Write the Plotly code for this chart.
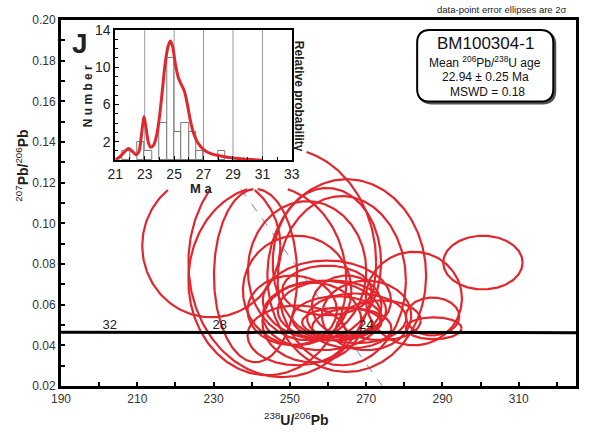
import numpy as np
import plotly.graph_objects as go

# ---------------- data ----------------
# error ellipses (centre x, centre y, semi-axis x, semi-axis y) in 238U/206Pb , 207Pb/206Pb
ell_x = [229.4, 248.0, 244.1, 241.0, 264.9, 254.5, 259.7, 263.6, 251.9, 259.7,
         261.0, 262.3, 263.6, 258.4, 264.9, 267.5, 255.8, 266.2, 270.1, 251.9,
         282.5, 300.6, 287.4, 287.7, 273.9, 259.7, 250.6]
ell_y = [0.0890, 0.0807, 0.0718, 0.0743, 0.0743, 0.0767, 0.0807, 0.0718, 0.0670, 0.0621,
         0.0572, 0.0533, 0.0513, 0.0547, 0.0596, 0.0533, 0.0513, 0.0484, 0.0547, 0.0449,
         0.0630, 0.0807, 0.0542, 0.0484, 0.0523, 0.0670, 0.0572]
ell_sx = [18.1, 24.6, 20.7, 10.9, 20.8, 15.5, 14.2, 16.8, 14.2, 16.8,
          14.2, 11.7, 10.4, 15.5, 9.1, 13.0, 13.0, 10.4, 11.7, 13.0,
          12.6, 10.4, 7.0, 7.3, 10.4, 11.7, 11.7]
ell_sy = [0.0352, 0.0563, 0.0465, 0.0426, 0.0474, 0.0342, 0.0367, 0.0416, 0.0269, 0.0196,
          0.0147, 0.0108, 0.0073, 0.0171, 0.0147, 0.0122, 0.0196, 0.0098, 0.0171, 0.0147,
          0.0230, 0.0132, 0.0093, 0.0054, 0.0098, 0.0122, 0.0171]

# concordia (Tera-Wasserburg) with age labels
conc_x = [190.0, 200.9, 229.7, 268.1, 325.0]
conc_y = [0.04645, 0.04643, 0.04638, 0.04632, 0.04625]
age_labels = ["32", "28", "24"]
age_x = [200.9, 229.7, 268.1]
age_y = [0.04643, 0.04638, 0.04632]

# regression (dashed) line
reg_x = [237.2, 274.2]
reg_y = [0.1168, 0.0200]

# inset histogram (Ma, counts)
hist_centers = [21.75, 22.75, 23.25, 24.25, 24.75, 25.25, 25.75, 26.25, 26.75, 28.25]
hist_counts = [1, 2, 1, 4, 11, 3, 4, 3, 1, 1]
# relative probability curve
pdf_age = [21.0, 21.3, 21.6, 21.9, 22.2, 22.4, 22.6, 22.8, 22.95, 23.1, 23.25, 23.4, 23.6,
           23.8, 24.0, 24.2, 24.4, 24.6, 24.75, 24.9, 25.1, 25.3, 25.5, 25.7, 25.9, 26.1,
           26.3, 26.6, 27.0, 27.5, 28.0, 28.5, 29.0, 30.0, 31.0]
pdf_val = [0.05, 0.35, 0.85, 1.25, 0.9, 0.6, 0.9, 3.0, 4.7, 3.4, 1.9, 1.4, 1.6,
           2.6, 4.6, 7.5, 10.5, 12.3, 12.8, 12.2, 10.2, 8.8, 8.1, 7.4, 6.0, 4.3,
           3.0, 1.9, 1.15, 0.7, 0.5, 0.35, 0.25, 0.1, 0.0]

# ---------------- layout helpers ----------------
W, H = 596, 432
ML, MR, MT, MB = 61, 13, 18, 46
PW, PH = W - ML - MR, H - MT - MB
XR = [190, 325]
YR = [0.02, 0.20]
RED = "#e3262d"
FONT = "Liberation Sans, Arial, sans-serif"


def px2paper(px, py):
    return (px - ML) / PW, (H - MB - py) / PH


# inset region (covered area in the main plot, data units)
cover_x = XR[0] + (308 - ML) / PW * (XR[1] - XR[0])
cover_y = YR[1] - (188 - MT) / PH * (YR[1] - YR[0])

ex, ey = [], []
t = np.linspace(0, 2 * np.pi, 241)
for cx, cy, sx, sy in zip(ell_x, ell_y, ell_sx, ell_sy):
    xs = cx + sx * np.cos(t)
    ys = cy + sy * np.sin(t)
    for a, b in zip(xs, ys):
        if a < cover_x and b > cover_y:
            ex.append(None); ey.append(None)
        else:
            ex.append(a); ey.append(b)
    ex.append(None); ey.append(None)

fig = go.Figure()

fig.add_trace(go.Scatter(x=reg_x, y=reg_y, mode="lines",
                         line=dict(color="#6f7fd0", width=1, dash="dash"),
                         showlegend=False, xaxis="x", yaxis="y"))
fig.add_trace(go.Scatter(x=ex, y=ey, mode="lines",
                         line=dict(color=RED, width=2.2), connectgaps=False,
                         showlegend=False, xaxis="x", yaxis="y"))
fig.add_trace(go.Scatter(x=conc_x, y=conc_y, mode="lines",
                         line=dict(color="black", width=3), hoverinfo="skip",
                         showlegend=False, xaxis="x", yaxis="y"))
fig.add_trace(go.Scatter(x=age_x, y=age_y, mode="text", text=age_labels,
                         textposition="top right",
                         textfont=dict(family=FONT, size=13, color="#222"),
                         showlegend=False, xaxis="x", yaxis="y"))

# inset
fig.add_trace(go.Bar(x=hist_centers, y=hist_counts, width=0.5,
                     marker=dict(color="white", line=dict(color="#777", width=1)),
                     showlegend=False, xaxis="x2", yaxis="y2"))
fig.add_trace(go.Scatter(x=pdf_age, y=pdf_val, mode="lines",
                         line=dict(color=RED, width=3, shape="spline", smoothing=0.8),
                         showlegend=False, xaxis="x2", yaxis="y2"))

ix0, iy1 = px2paper(116, 28)
ix1, iy0 = px2paper(295, 159)

axis_common = dict(showline=True, mirror=True, linecolor="black", showgrid=False,
                   zeroline=False, ticks="inside", tickcolor="black")

fig.update_layout(
    width=W, height=H,
    margin=dict(l=ML, r=MR, t=MT, b=MB),
    paper_bgcolor="white", plot_bgcolor="white",
    font=dict(family=FONT, color="#333"),
    showlegend=False,
    xaxis=dict(range=XR, domain=[0, 1], anchor="y", linewidth=3,
               tick0=190, dtick=20, ticklen=4, tickwidth=2,
               minor=dict(dtick=10, ticks="inside", ticklen=4, tickwidth=2, tickcolor="black"),
               tickfont=dict(size=12, color="#333"), **axis_common),
    yaxis=dict(range=YR, domain=[0, 1], anchor="x", linewidth=3,
               tick0=0.02, dtick=0.02, tickformat=".2f", ticklen=4, tickwidth=2,
               minor=dict(dtick=0.01, ticks="inside", ticklen=4, tickwidth=2, tickcolor="black"),
               tickfont=dict(size=12, color="#333"), **axis_common),
    xaxis2=dict(range=[21, 33], domain=[ix0, ix1], anchor="y2", linewidth=2,
                tickvals=[21, 23, 25, 27, 29, 31, 33], ticklen=4,
                minor=dict(dtick=1, ticks="inside", ticklen=3, tickcolor="black"),
                tickfont=dict(size=14, color="#222"),
                showline=True, mirror=True, linecolor="black", zeroline=False,
                ticks="inside", tickcolor="black",
                showgrid=False),
    yaxis2=dict(range=[0, 14], domain=[iy0, iy1], anchor="x2", linewidth=2,
                tickvals=[2, 6, 10, 14], ticklen=4,
                minor=dict(dtick=1, ticks="inside", ticklen=3, tickcolor="black"),
                tickfont=dict(size=14, color="#222"), **axis_common),
    bargap=0,
)

shapes = []
# inset vertical grid lines
for g in [23, 25, 27, 29, 31]:
    shapes.append(dict(type="line", xref="x2", yref="y2", x0=g, x1=g, y0=0, y1=14,
                       line=dict(color="#9a9a9a", width=1), layer="below"))

# rounded text box (with shadow)
def rounded(px0, py0, px1, py1, r):
    x0, y1 = px2paper(px0, py0)
    x1, y0 = px2paper(px1, py1)
    rx, ry = r / PW, r / PH
    return (f"M {x0+rx},{y1} L {x1-rx},{y1} Q {x1},{y1} {x1},{y1-ry} "
            f"L {x1},{y0+ry} Q {x1},{y0} {x1-rx},{y0} L {x0+rx},{y0} "
            f"Q {x0},{y0} {x0},{y0+ry} L {x0},{y1-ry} Q {x0},{y1} {x0+rx},{y1} Z")

shapes.append(dict(type="path", xref="paper", yref="paper", path=rounded(424, 30, 562, 102, 13),
                   fillcolor="#555", line=dict(color="#555", width=2), layer="above"))
shapes.append(dict(type="path", xref="paper", yref="paper", path=rounded(422, 28, 560, 100, 13),
                   fillcolor="white", line=dict(color="black", width=2), layer="above"))
fig.update_layout(shapes=shapes)

ann = []
def add_text(px, py, text, size, bold=False, angle=0, color="#111", xanchor="center"):
    x, y = px2paper(px, py)
    ann.append(dict(x=x, y=y, xref="paper", yref="paper", text=text, showarrow=False,
                    textangle=angle, xanchor=xanchor, yanchor="middle",
                    font=dict(family=FONT, size=size, color=color)))

add_text(508, 7, "data-point error ellipses are 2σ", 9.5, color="#222")
add_text(491, 42, "BM100304-1", 17, color="#111")
add_text(491, 60, "Mean <sup>206</sup>Pb/<sup>238</sup>U age", 12, color="#111")
add_text(491, 75, "22.94 ± 0.25 Ma", 12, color="#111")
add_text(493, 90, "MSWD = 0.18", 12, color="#111")
add_text(80, 42, "<b>J</b>", 28, color="#222")
add_text(88, 95, "<b>N u m b e r</b>", 12, angle=-90, color="#222")
add_text(303, 95, "<b>Relative probability</b>", 12, angle=90, color="#222")
add_text(203, 187, "<b>M a</b>", 13, color="#222")
add_text(22, 165, "<sup>207</sup><b>Pb/</b><sup>206</sup><b>Pb</b>", 14, angle=-90, color="#222")
add_text(300, 419, "<sup>238</sup><b>U/</b><sup>206</sup><b>Pb</b>", 14, color="#222")
fig.update_layout(annotations=ann)

fig.write_html("out.html")
